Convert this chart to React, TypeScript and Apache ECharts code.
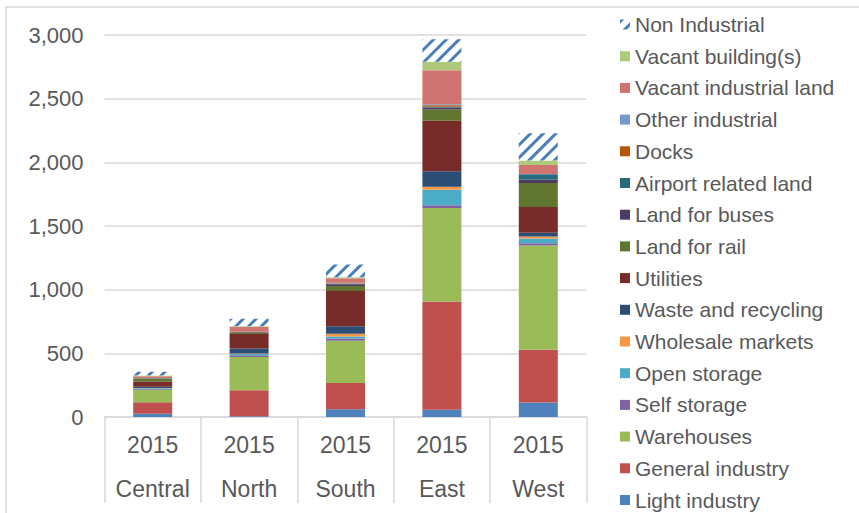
import React, { useEffect, useRef } from "react";
import * as echarts from "echarts";

const regions = ["Central", "North", "South", "East", "West"];
const years = ["2015", "2015", "2015", "2015", "2015"];

const seriesNames = [
  "Light industry",
  "General industry",
  "Warehouses",
  "Self storage",
  "Open storage",
  "Wholesale markets",
  "Waste and recycling",
  "Utilities",
  "Land for rail",
  "Land for buses",
  "Airport related land",
  "Docks",
  "Other industrial",
  "Vacant industrial land",
  "Vacant building(s)",
  "Non Industrial",
];

const lightIndustry = [25, 5, 60, 57, 113];
const generalIndustry = [90, 205, 207, 850, 415];
const warehouses = [97, 262, 331, 735, 819];
const selfStorage = [5, 13, 18, 20, 18];
const openStorage = [8, 10, 16, 123, 37];
const wholesaleMarkets = [2, 3, 21, 24, 16];
const wasteRecycling = [10, 40, 60, 121, 29];
const utilities = [42, 113, 276, 396, 202];
const landForRail = [24, 13, 40, 89, 189];
const landForBuses = [1, 3, 13, 16, 26];
const airportLand = [0, 0, 5, 5, 42];
const docks = [0, 0, 3, 12, 0];
const otherIndustrial = [2, 3, 5, 8, 3];
const vacantLand = [15, 37, 34, 268, 71];
const vacantBuildings = [4, 5, 8, 66, 34];
const nonIndustrial = [30, 60, 100, 176, 215];

const seriesValues = [
  lightIndustry,
  generalIndustry,
  warehouses,
  selfStorage,
  openStorage,
  wholesaleMarkets,
  wasteRecycling,
  utilities,
  landForRail,
  landForBuses,
  airportLand,
  docks,
  otherIndustrial,
  vacantLand,
  vacantBuildings,
  nonIndustrial,
];

const colors = [
  "#4f81bd",
  "#c0504d",
  "#9bbb59",
  "#8064a2",
  "#4bacc6",
  "#f79646",
  "#2c4d75",
  "#772c2a",
  "#5f7530",
  "#4d3b62",
  "#276a7c",
  "#b65708",
  "#729aca",
  "#d07472",
  "#afc97a",
  "#ffffff",
];

const yTicks = [0, 500, 1000, 1500, 2000, 2500, 3000];

export default function App() {
  const ref = useRef<HTMLDivElement>(null);
  useEffect(() => {
    if (!ref.current) return;
    const chart = echarts.init(ref.current, null, { renderer: "svg" });
    const font = "'Liberation Sans', Arial, sans-serif";
    const series = seriesNames.map((name, i) => {
      const isHatch = name === "Non Industrial";
      return {
        name,
        type: "bar",
        stack: "total",
        barWidth: 39,
        data: seriesValues[i],
        itemStyle: isHatch
          ? {
              color: "#ffffff",
              decal: {
                symbol: "rect",
                symbolSize: 1,
                color: "#4a7ebb",
                backgroundColor: "#ffffff",
                dashArrayX: [1, 0],
                dashArrayY: [3, 6],
                rotation: -Math.PI / 4,
              },
            }
          : { color: colors[i] },
      };
    });
    chart.setOption({
      animation: false,
      backgroundColor: "#ffffff",
      textStyle: { fontFamily: font },
      grid: { left: 104.5, right: 272.5, top: 35, bottom: 96, containLabel: false },
      legend: {
        orient: "vertical",
        left: 620,
        top: 14,
        height: 499,
        padding: 0,
        itemWidth: 10,
        itemHeight: 10,
        itemGap: 10.7,
        icon: "rect",
        data: seriesNames.slice().reverse(),
        textStyle: { fontSize: 21, color: "#595959", fontFamily: font, lineHeight: 21 },
      },
      xAxis: {
        type: "category",
        data: regions.map((r, i) => years[i] + "\n" + r),
        axisLine: { show: true, lineStyle: { color: "#d9d9d9", width: 1.5 } },
        axisTick: { show: true, length: 86, lineStyle: { color: "#d9d9d9", width: 1.5 } },
        axisLabel: {
          color: "#595959",
          fontSize: 23,
          lineHeight: 44,
          margin: 6,
          fontFamily: font,
        },
      },
      yAxis: {
        type: "value",
        min: yTicks[0],
        max: yTicks[yTicks.length - 1],
        interval: 500,
        axisLine: { show: false },
        axisTick: { show: false },
        splitLine: { lineStyle: { color: "#d9d9d9", width: 1.5 } },
        axisLabel: {
          color: "#595959",
          fontSize: 22,
          margin: 21,
          fontFamily: font,
          formatter: (v: number) => v.toLocaleString("en-US"),
        },
      },
      graphic: [
        {
          type: "rect",
          shape: { x: 6, y: 7, width: 900, height: 600 },
          style: { fill: "none", stroke: "#d9d9d9", lineWidth: 1.5 },
          silent: true,
          z: -1,
        },
      ],
      series,
    });
    return () => chart.dispose();
  }, []);
  return <div ref={ref} style={{ width: 859, height: 513, position: "absolute", left: 0, top: 0 }} />;
}
